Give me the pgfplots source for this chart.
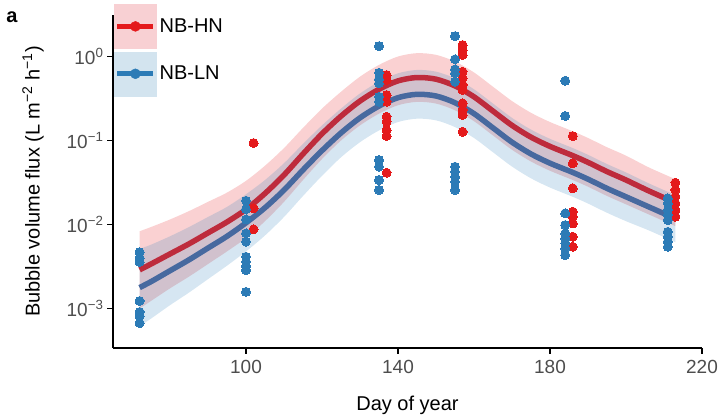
\documentclass[border=0pt]{standalone}
\usepackage{pgfplots}
\pgfplotsset{compat=1.18}
\usepgfplotslibrary{fillbetween}
\usepackage{pgfplotstable}
\usepackage{fontspec}
\setmainfont{Liberation Sans}
\definecolor{hnpt}{HTML}{E41A1C}
\definecolor{lnpt}{HTML}{2C7BB6}
\definecolor{hnline}{HTML}{BE2B3C}
\definecolor{lnline}{HTML}{47699F}
\definecolor{hnbandc}{HTML}{E41A1C}
\definecolor{lnbandc}{HTML}{3182BD}
\definecolor{hnleg}{HTML}{F8D0D3}
\definecolor{lnleg}{HTML}{D3E4EF}
\definecolor{tickgrey}{HTML}{4D4D4D}

\pgfplotstableread{
day r rlo rhi b blo bhi
72  2.884e-3 1.000e-3 8.318e-3 1.778e-3 6.166e-4 5.129e-3
75  3.388e-3 1.230e-3 9.333e-3 2.089e-3 7.586e-4 5.754e-3
80  4.467e-3 1.738e-3 1.148e-2 2.818e-3 1.096e-3 7.244e-3
85  5.888e-3 2.399e-3 1.445e-2 3.802e-3 1.549e-3 9.333e-3
90  7.943e-3 3.388e-3 1.862e-2 5.248e-3 2.239e-3 1.230e-2
95  1.072e-2 4.786e-3 2.399e-2 7.244e-3 3.236e-3 1.622e-2
100 1.514e-2 6.918e-3 3.311e-2 1.047e-2 4.786e-3 2.291e-2
105 2.344e-2 1.096e-2 5.012e-2 1.585e-2 7.413e-3 3.388e-2
110 3.890e-2 1.862e-2 8.128e-2 2.570e-2 1.230e-2 5.370e-2
115 6.918e-2 3.388e-2 0.1413   4.467e-2 2.188e-2 9.120e-2
120 0.1202   6.026e-2 0.2399   7.586e-2 3.802e-2 0.1514
125 0.1950   0.1000   0.3802   0.1230   6.310e-2 0.2399
130 0.2951   0.1514   0.5754   0.1862   9.550e-2 0.3631
135 0.4074   0.2089   0.7943   0.2570   0.1318   0.5012
140 0.5129   0.2630   1.000    0.3236   0.1660   0.6310
145 0.5623   0.2884   1.096    0.3548   0.1820   0.6918
150 0.5370   0.2754   1.047    0.3388   0.1738   0.6607
155 0.4467   0.2291   0.8710   0.2818   0.1445   0.5495
160 0.3311   0.1698   0.6457   0.2089   0.1072   0.4074
165 0.2239   0.1148   0.4365   0.1413   7.244e-2 0.2754
170 0.1514   7.762e-2 0.2951   9.550e-2 4.898e-2 0.1862
175 0.1096   5.623e-2 0.2138   6.918e-2 3.548e-2 0.1349
180 8.511e-2 4.365e-2 0.1660   5.370e-2 2.754e-2 0.1047
186 6.607e-2 3.388e-2 0.1288   4.169e-2 2.138e-2 8.128e-2
190 5.495e-2 2.818e-2 0.1072   3.467e-2 1.778e-2 6.761e-2
195 4.266e-2 2.188e-2 8.318e-2 2.692e-2 1.380e-2 5.248e-2
200 3.388e-2 1.738e-2 6.607e-2 2.138e-2 1.096e-2 4.169e-2
206 2.512e-2 1.318e-2 4.786e-2 1.622e-2 8.511e-3 3.090e-2
213 1.820e-2 9.550e-3 3.467e-2 1.175e-2 6.166e-3 2.239e-2
}\fits

\pgfplotstableread{
x y
102 0.0933
102 0.0156
102 0.00877
137 0.602
137 0.525
137 0.348
137 0.290
137 0.192
137 0.168
137 0.133
137 0.113
137 0.0414
157 1.37
157 1.19
157 1.04
157 0.659
157 0.550
157 0.458
157 0.399
157 0.277
157 0.231
157 0.201
157 0.127
186 0.113
186 0.0535
186 0.0270
186 0.0142
186 0.0124
186 0.0103
186 0.00716
186 0.00544
213 0.0315
213 0.0258
213 0.0214
213 0.0179
213 0.0149
213 0.0124
}\hnpts

\pgfplotstableread{
x y
72 0.00469
72 0.00399
72 0.00358
72 0.00123
72 0.00091
72 0.00081
72 0.00067
100 0.0192
100 0.0152
100 0.0115
100 0.00786
100 0.00624
100 0.00414
100 0.00361
100 0.00321
100 0.00287
100 0.00158
135 1.33
135 0.641
135 0.535
135 0.480
135 0.332
135 0.290
135 0.0586
135 0.0488
135 0.0339
135 0.0258
155 1.75
155 0.927
155 0.705
155 0.631
155 0.501
155 0.0488
155 0.0426
155 0.0370
155 0.0323
155 0.0258
184 0.515
184 0.196
184 0.0136
184 0.00986
184 0.00786
184 0.00685
184 0.00598
184 0.00521
184 0.00433
211 0.0205
211 0.0179
211 0.0149
211 0.0130
211 0.0113
211 0.0082
211 0.00716
211 0.00624
211 0.00544
}\lnpts

\begin{document}
\begin{tikzpicture}
\begin{axis}[
  scale only axis,
  width=589pt, height=333pt,
  xmin=65, xmax=220,
  ymode=log, ymin=3.39e-4, ymax=3.12,
  axis lines*=left,
  axis line style={line width=1.3pt, black, -},
  tick style={black, line width=1.2pt},
  tick align=outside,
  major tick length=6pt,
  yminorticks=false,
  xtick={100,140,180,220},
  ytick={0.001,0.01,0.1,1},
  yticklabels={10\textsuperscript{−3},10\textsuperscript{−2},10\textsuperscript{−1},10\textsuperscript{0}},
  /pgf/number format/assume math mode=true,
  ticklabel style={font=\fontsize{19}{22}\selectfont, text=tickgrey},
  xticklabel style={yshift=-3pt},
  xlabel={Day of year},
  ylabel={Bubble volume flux (L m\textsuperscript{−2} h\textsuperscript{−1})},
  label style={font=\fontsize{20}{24}\selectfont, text=black},
  xlabel style={at={(axis description cs:0.5,-0.1712)}, anchor=center},
  ylabel style={at={(axis description cs:-0.1358,0.5)}, anchor=center},
  legend style={at={(0,1)}, anchor=north west, xshift=1pt, yshift=11pt,
    draw=none, fill=none, inner sep=0pt, row sep=3pt,
    font=\fontsize{20}{24}\selectfont,
    nodes={inner xsep=3pt, inner ysep=0pt}},
  legend cell align=left,
]
% bands
\addplot[name path=hnU, draw=none, smooth, forget plot] table[x=day, y=rhi] {\fits};
\addplot[name path=hnL, draw=none, smooth, forget plot] table[x=day, y=rlo] {\fits};
\addplot[fill=hnbandc, fill opacity=0.2, draw=none, forget plot] fill between[of=hnU and hnL];
\addplot[name path=lnU, draw=none, smooth, forget plot] table[x=day, y=bhi] {\fits};
\addplot[name path=lnL, draw=none, smooth, forget plot] table[x=day, y=blo] {\fits};
\addplot[fill=lnbandc, fill opacity=0.2, draw=none, forget plot] fill between[of=lnU and lnL];
% lines
\addplot[hnline, line width=5.5pt, smooth, forget plot] table[x=day, y=r] {\fits};
\addplot[lnline, line width=5.5pt, smooth, forget plot] table[x=day, y=b] {\fits};
% points
\addplot[hnpt, only marks, mark=*, mark size=4.5pt, mark options={fill=hnpt, draw=hnpt, line width=0pt}, forget plot] table[x=x, y=y] {\hnpts};
\addplot[lnpt, only marks, mark=*, mark size=4.5pt, mark options={fill=lnpt, draw=lnpt, line width=0pt}, forget plot] table[x=x, y=y] {\lnpts};
% legend
\addlegendimage{legend image code/.code={
  \fill[hnleg] (0pt,-22pt) rectangle (42pt,22pt);
  \draw[hnpt, line width=5pt] (3pt,0pt) -- (39pt,0pt);
  \fill[hnpt] (21pt,0pt) circle (5pt);}}
\addlegendentry{NB-HN}
\addlegendimage{legend image code/.code={
  \fill[lnleg] (0pt,-22pt) rectangle (42pt,22pt);
  \draw[lnpt, line width=5pt] (3pt,0pt) -- (39pt,0pt);
  \fill[lnpt] (21pt,0pt) circle (5pt);}}
\addlegendentry{NB-LN}
\end{axis}
\node[font=\fontsize{20}{24}\selectfont\bfseries] at (-101pt,331pt) {a};
\pgfresetboundingbox
\path[use as bounding box] (-113pt,-69pt) rectangle (610pt,348pt);
\end{tikzpicture}
\end{document}
